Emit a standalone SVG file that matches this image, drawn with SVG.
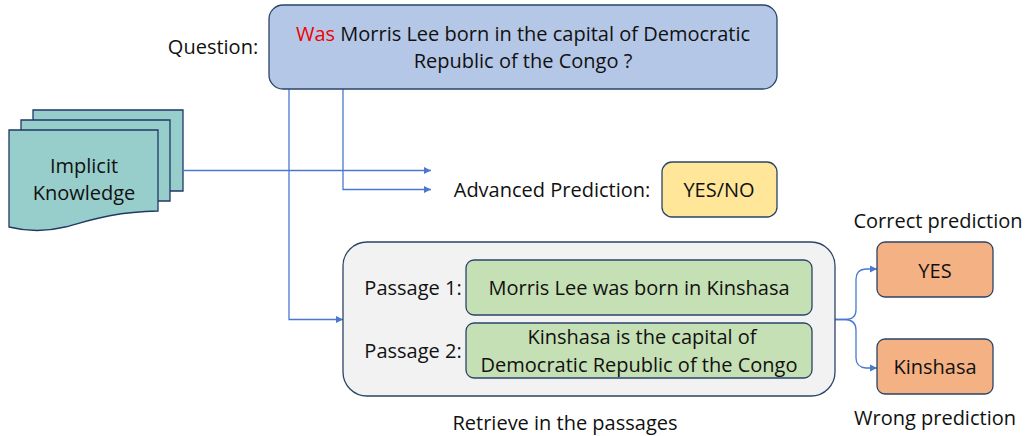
<svg xmlns="http://www.w3.org/2000/svg" width="1025" height="436" viewBox="0 0 1025 436">
<style>
text{font-family:"Open Sans","Noto Sans",sans-serif;font-size:20px;fill:#111;text-anchor:middle}
.c{fill:none;stroke:#4a78d0;stroke-width:1.3}
.d{fill:#97cdcb;stroke:#1f3864;stroke-width:1.3}
.n{stroke:#2a4468;stroke-width:1.3}
</style>
<defs><marker id="a" markerWidth="8" markerHeight="8" refX="7" refY="4" orient="auto" markerUnits="userSpaceOnUse"><path d="M0,0.5L7,4L0,7.5Z" fill="#4a78d0"/></marker></defs>
<rect width="1025" height="436" fill="#fff"/>
<g id="knowledge">
<path class="d" d="M33,110H183V191H33Z"/>
<path class="d" d="M21,120H170V201H21Z"/>
<path class="d" d="M9,130H158V211C110,212 85,222 65,227C45,232 25,231 9,227Z"/>
<text x="84" y="173">Implicit</text><text x="84" y="200">Knowledge</text></g>
<g id="connectors">
<path class="c" marker-end="url(#a)" d="M183,170.500H431"/>
<path class="c" marker-end="url(#a)" d="M343,89V189.500H431"/>
<path class="c" marker-end="url(#a)" d="M289,89V319.500H343"/>
<path class="c" marker-end="url(#a)" d="M835,319.500H845Q856,319.500 856,310V279Q856,269.500 866,269H877"/>
<path class="c" marker-end="url(#a)" d="M835,319.500H845Q856,320 856,330V358Q856,367 866,368H877"/>
</g>
<g id="question"><rect class="n" x="269" y="5" width="508" height="84" rx="14" fill="#b4c7e7"/>
<text x="523" y="41"><tspan style="fill:#f00000">Was</tspan> Morris Lee born in the capital of Democratic</text><text x="523" y="68">Republic of the Congo ?</text></g>
<text x="213" y="54">Question:</text>
<text x="552" y="197">Advanced Prediction:</text>
<g id="yesno"><rect class="n" x="662" y="162" width="115" height="55" rx="10" fill="#ffe699"/><text x="719" y="197">YES/NO</text></g>
<g id="passages"><rect class="n" x="343" y="242" width="492" height="154" rx="24" fill="#f2f2f2"/></g>
<text x="413" y="295">Passage 1:</text><text x="413" y="358">Passage 2:</text>
<g id="p1"><rect class="n" x="466" y="260" width="346" height="55" rx="8" fill="#c5e0b4"/><text x="639" y="295">Morris Lee was born in Kinshasa</text></g>
<g id="p2"><rect class="n" x="466" y="323" width="346" height="55" rx="8" fill="#c5e0b4"/><text x="642" y="344">Kinshasa is the capital of</text><text x="639" y="372">Democratic Republic of the Congo</text></g>
<g id="yes"><rect class="n" x="877" y="242" width="116" height="55" rx="8" fill="#f4b183"/><text x="935" y="278">YES</text></g>
<g id="kinshasa"><rect class="n" x="877" y="339" width="116" height="55" rx="8" fill="#f4b183"/><text x="935" y="374">Kinshasa</text></g>
<text x="938" y="228">Correct prediction</text>
<text x="935" y="425">Wrong prediction</text>
<text x="565" y="430">Retrieve in the passages</text>
</svg>
